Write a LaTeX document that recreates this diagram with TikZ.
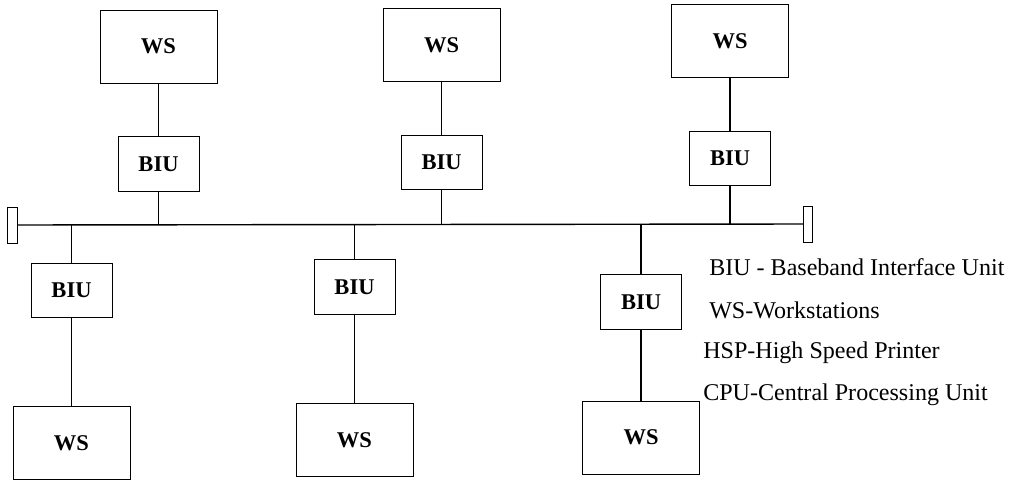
\documentclass[tikz,border=0pt]{standalone}
\usepackage{fontspec}
\setmainfont{Liberation Serif}
\usetikzlibrary{positioning}
\tikzset{
    every node/.style={inner sep=0pt},
    wsbox/.style={draw, line width=0.5pt, minimum width=2.93cm, minimum height=1.82cm, font=\fontsize{16}{19}\selectfont\bfseries}, % workstation boxes
    biubox/.style={draw, line width=0.5pt, minimum width=2.03cm, minimum height=1.36cm, font=\fontsize{16}{19}\selectfont\bfseries},
    term/.style={draw, line width=0.6pt, minimum width=0.23cm, minimum height=0.9cm}, % bus ends
    link/.style={line width=1pt},
    legend/.style={anchor=west, font=\fontsize{17.1}{21}\selectfont},
}
\begin{document}
\begin{tikzpicture}[x=0.025cm, y=-0.025cm]
        \useasboundingbox (0,0) rectangle (1017,480);

        \node[term] (termL) at (12.5,225) {};
        \node[term] (termR) at (808,224) {};

        \node[biubox] (biu1) at (158.5,164) {BIU};
        \node[biubox] (biu2) at (441.5,162.5) {BIU};
        \node[biubox] (biu3) at (730,158.5) {BIU};
        \node[wsbox, above=1.33cm of biu1] (ws1) {WS};
        \node[wsbox, above=1.33cm of biu2] (ws2) {WS};
        \node[wsbox, above=1.33cm of biu3] (ws3) {WS};

        \node[biubox] (biu4) at (71.5,290.5) {BIU};
        \node[biubox] (biu5) at (354.5,287) {BIU};
        \node[biubox] (biu6) at (641,302) {BIU};
        \node[wsbox, below=2.2cm of biu4] (ws4) {WS};
        \node[wsbox, below=2.22cm of biu5] (ws5) {WS};
        \node[wsbox, below=1.78cm of biu6] (ws6) {WS};

        \node[legend] (key1) at (709,267) {BIU - Baseband Interface Unit};
        \node[legend] (key2) at (709,310) {WS-Workstations};
        \node[legend] (key3) at (703,353) {HSP-High Speed Printer};
        \node[legend] (key4) at (703,395) {CPU-Central Processing Unit};

        \draw[link] (termL) -- (termR);
        \draw[link] (ws1) -- (biu1);
        \draw[link] (ws2) -- (biu2);
        \draw[link] (ws3) -- (biu3);
        \draw[link] (biu1) -- (biu1 |- termL);
        \draw[link] (biu2) -- (biu2 |- termL);
        \draw[link] (biu3) -- (biu3 |- termL);
        \draw[link] (biu4) -- (biu4 |- termL);
        \draw[link] (biu5) -- (biu5 |- termL);
        \draw[link] (biu6) -- (biu6 |- termL);
        \draw[link] (biu4) -- (ws4);
        \draw[link] (biu5) -- (ws5);
        \draw[link] (biu6) -- (ws6);

    \end{tikzpicture}
\end{document}
